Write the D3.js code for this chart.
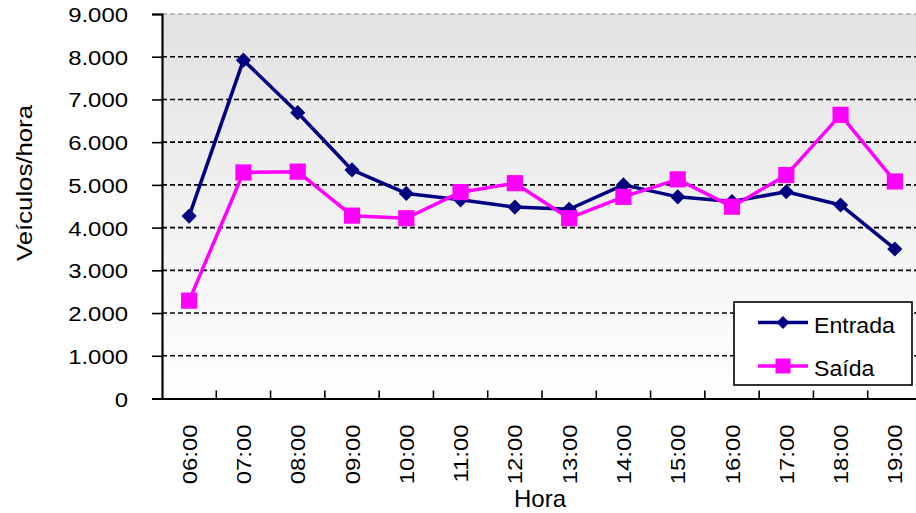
<!DOCTYPE html>
<html>
<head>
<meta charset="utf-8">
<script src="https://cdn.jsdelivr.net/npm/d3@7"></script>
<style>
  html, body { margin: 0; padding: 0; background: #fff; }
  svg { display: block; font-family: "Liberation Sans", Arial, sans-serif; }
</style>
</head>
<body>
<svg id="chart" width="916" height="513"></svg>
<script>
// Horas observadas
const horas = ["06:00","07:00","08:00","09:00","10:00","11:00","12:00","13:00","14:00","15:00","16:00","17:00","18:00","19:00"];
// Volume de entrada (veículos/hora)
const entrada = [4270, 7920, 6690, 5350, 4800, 4650, 4480, 4430, 5000, 4720, 4610, 4840, 4530, 3500];
// Volume de saída (veículos/hora)
const saida = [2290, 5290, 5310, 4280, 4220, 4830, 5040, 4220, 4720, 5130, 4490, 5230, 6640, 5080];
// Marcas do eixo vertical
const yTicks = [0, 1000, 2000, 3000, 4000, 5000, 6000, 7000, 8000, 9000];

const series = [
  { name: "Entrada", values: entrada, color: "#000080", symbol: "diamond" },
  { name: "Saída", values: saida, color: "#FF00FF", symbol: "square" }
];

const svg = d3.select("#chart");
const plotLeft = 162, plotTop = 14, plotBottom = 398.5, plotRight = 922;

const pt = d3.formatLocale({ decimal: ",", thousands: ".", grouping: [3], currency: ["R$", ""] });
const fmt = pt.format(",");

const x = d3.scaleBand().domain(horas).range([plotLeft, plotRight]);
const y = d3.scaleLinear().domain([0, 9000]).range([plotBottom, plotTop]);

// Fundo da área de plotagem em degradê
const defs = svg.append("defs");
const grad = defs.append("linearGradient").attr("id", "bg").attr("x1", 0).attr("y1", 0).attr("x2", 0).attr("y2", 1);
grad.append("stop").attr("offset", "0%").attr("stop-color", "#e2e2e2");
grad.append("stop").attr("offset", "100%").attr("stop-color", "#ffffff");
svg.append("rect").attr("x", plotLeft).attr("y", plotTop).attr("width", plotRight - plotLeft).attr("height", plotBottom - plotTop).attr("fill", "url(#bg)");

// Linhas de grade tracejadas
svg.append("g").selectAll("line").data(yTicks.filter(d => d > 0)).join("line")
  .attr("x1", plotLeft).attr("x2", plotRight)
  .attr("y1", d => y(d)).attr("y2", d => y(d))
  .attr("stroke", d => d === 9000 ? "#a8a8a8" : "#000")
  .attr("stroke-width", 1.6)
  .attr("stroke-dasharray", "5,3");

// Eixo vertical
const yAxis = svg.append("g").attr("transform", `translate(${plotLeft},0)`)
  .call(d3.axisLeft(y).tickValues(yTicks).tickSize(10).tickFormat(fmt));
yAxis.select(".domain").attr("stroke", "#000").attr("stroke-width", 2.2);
yAxis.selectAll(".tick line").attr("stroke", "#000").attr("stroke-width", 1.6);
yAxis.selectAll(".tick text")
  .attr("x", null).attr("dy", null)
  .attr("transform", "translate(-34,7.5) scale(1.14,1)")
  .attr("text-anchor", "end")
  .attr("font-size", 21).attr("font-family", "Liberation Sans, Arial, sans-serif").attr("fill", "#000");

// Eixo horizontal
const xAxis = svg.append("g").attr("transform", `translate(0,${plotBottom})`)
  .call(d3.axisBottom(x).tickSize(0).tickFormat(d => d));
xAxis.select(".domain").attr("stroke", "#000").attr("stroke-width", 2.2);
xAxis.selectAll(".tick text")
  .attr("y", null).attr("dy", null)
  .attr("transform", "translate(7.5,26) rotate(-90) scale(1.14,1)")
  .attr("text-anchor", "end")
  .attr("font-size", 21).attr("font-family", "Liberation Sans, Arial, sans-serif").attr("fill", "#000");
// Marcas entre categorias, voltadas para dentro
svg.append("g").selectAll("line").data(horas).join("line")
  .attr("x1", d => x(d) + x.bandwidth())
  .attr("x2", d => x(d) + x.bandwidth())
  .attr("y1", plotBottom).attr("y2", plotBottom - 8)
  .attr("stroke", "#000").attr("stroke-width", 1.6);

// Títulos dos eixos
svg.append("text").attr("x", 540).attr("y", 507).attr("text-anchor", "middle")
  .attr("font-size", 24).text("Hora");
svg.append("text").attr("transform", "translate(31.5,183) rotate(-90) scale(1.12,1)")
  .attr("text-anchor", "middle").attr("font-size", 23).text("Veículos/hora");

// Séries
const cx = d => x(d) + x.bandwidth() / 2;
const line = d3.line().x((d, i) => cx(horas[i])).y(d => y(d));
const symDiamond = d3.symbol().type(d3.symbolSquare).size(115);
const symSquare = d3.symbol().type(d3.symbolSquare).size(262);

series.forEach(s => {
  svg.append("path").datum(s.values).attr("d", line)
    .attr("fill", "none").attr("stroke", s.color).attr("stroke-width", 3.5).attr("stroke-linejoin", "round");
  svg.append("g").selectAll("path").data(s.values).join("path")
    .attr("d", s.symbol === "diamond" ? symDiamond : symSquare)
    .attr("transform", (d, i) => `translate(${cx(horas[i])},${y(d)})` + (s.symbol === "diamond" ? " rotate(45)" : ""))
    .attr("fill", s.color);
});

// Legenda
const lg = svg.append("g");
lg.append("rect").attr("x", 734).attr("y", 302).attr("width", 178).attr("height", 83)
  .attr("fill", "#fff").attr("stroke", "#000").attr("stroke-width", 1.6);
series.forEach((s, i) => {
  const ly = [322.5, 366][i];
  lg.append("line").attr("x1", 758).attr("x2", 808).attr("y1", ly).attr("y2", ly)
    .attr("stroke", s.color).attr("stroke-width", 3.5);
  lg.append("path").attr("d", s.symbol === "diamond" ? d3.symbol().type(d3.symbolSquare).size(85)() : d3.symbol().type(d3.symbolSquare).size(225)())
    .attr("transform", `translate(783,${ly})` + (s.symbol === "diamond" ? " rotate(45)" : ""))
    .attr("fill", s.color);
  lg.append("text").attr("transform", `translate(814,${ly + 10}) scale(1.05,1)`)
    .attr("font-size", 22).text(s.name);
});
</script>
</body>
</html>
